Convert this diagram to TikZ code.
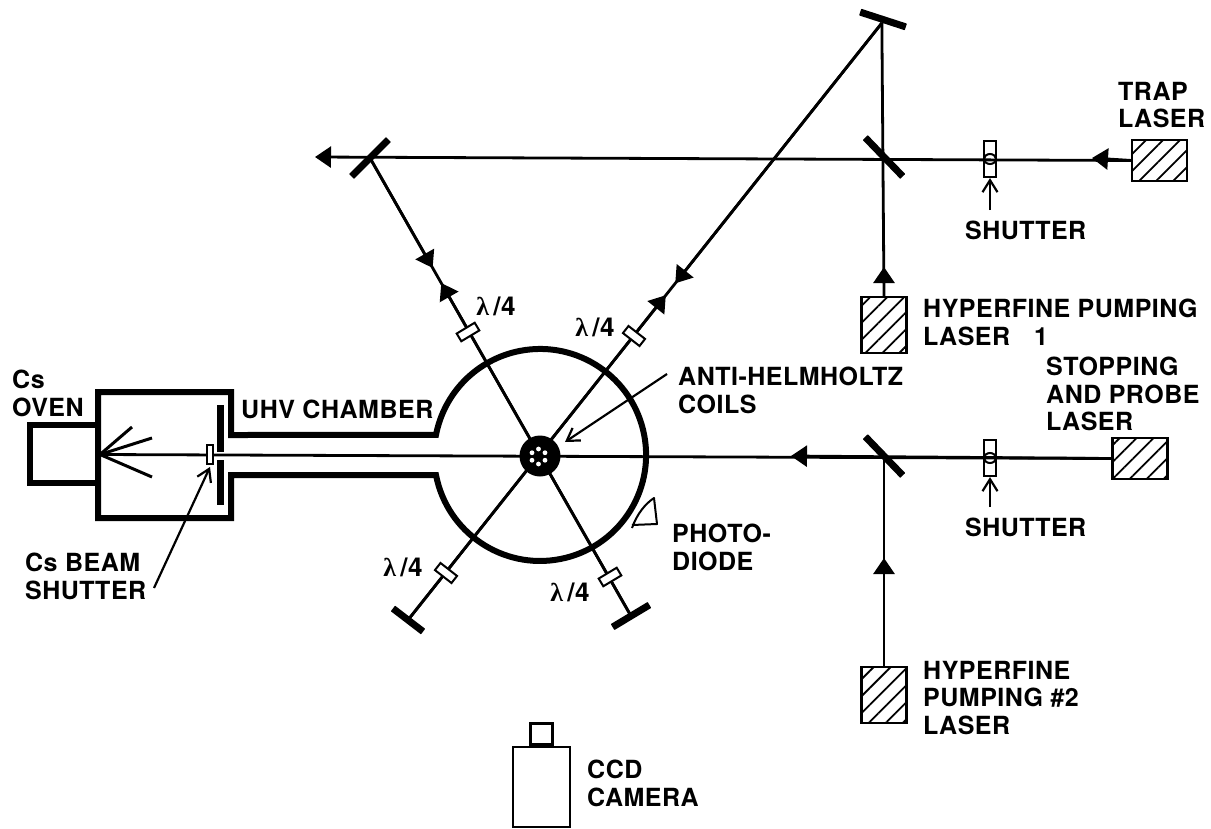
\documentclass[tikz,border=0pt]{standalone}
\usepackage{fontspec}
\setsansfont[LetterSpace=2]{TeX Gyre Heros}
\newfontfamily\lambdafont{Liberation Serif}
\usepackage{tikz}
\usetikzlibrary{arrows.meta,backgrounds,calc,patterns.meta}
\newcommand{\quarterwave}{{\lambdafont\bfseries λ}\,/4}
\tikzset{
  font=\sffamily,
  wall/.style={draw=black, line width=6pt, line join=miter},
  beam/.style={draw=black, line width=2.8pt},
  beamtip/.style={beam, -{Triangle[length=16pt,width=21pt]}},
  pointer/.style={draw=black, line width=2.2pt, -{Straight Barb[length=12pt,width=15pt,line width=2.2pt]}},
  fanline/.style={draw=black, line width=3pt},
  laser/.style={draw=black, line width=2.8pt, inner sep=0pt, outer sep=0pt,
    pattern={Lines[angle=45,distance=12pt,line width=1.8pt]}},
  mirror/.style={fill=black, inner sep=0pt, minimum height=7pt, rounded corners=0.5pt},
  plate/.style={draw=black, line width=2pt, fill=white, inner sep=0pt, minimum width=21pt, minimum height=9pt},
  shutter/.style={draw=black, line width=2.2pt, inner sep=0pt, minimum width=12pt, minimum height=36pt},
  housing/.style={draw=black, line width=2.4pt, inner sep=0pt},
  tag/.style={font=\sffamily\bfseries\fontsize{25}{27.5}\selectfont, anchor=north west, inner sep=0pt, align=left},
  lambdatag/.style={font=\sffamily\bfseries\fontsize{26}{28}\selectfont, inner sep=0pt}
}
\begin{document}
\begin{tikzpicture}[x=1pt,y=-1pt]
  \useasboundingbox (0,0) rectangle (1211,828);

  % lasers
  \node[laser, minimum width=55pt, minimum height=41pt] (traplaser) at (1159.5,160.5) {};
  \node[laser, minimum width=55pt, minimum height=41pt] (stoplaser) at (1140,458.5) {};
  \node[laser, minimum width=45pt, minimum height=56pt] (hfonelaser) at (884,325) {};
  \node[laser, minimum width=45pt, minimum height=56pt] (hftwolaser) at (884,695) {};

  % mirrors
  \node[mirror, minimum width=48pt, rotate=-18] (topmirror) at (883,19.5) {};
  \node[mirror, minimum width=54pt, rotate=-46] (upmirror) at (884,157) {};
  \node[mirror, minimum width=54pt, rotate=-46] (lowmirror) at (884,456) {};
  \node[mirror, minimum width=52pt, rotate=45] (leftmirror) at (370,158) {};
  \node[mirror, minimum width=38pt, rotate=-37.5] (llmirror) at (408,620) {};
  \node[mirror, minimum width=43pt, rotate=31] (lrmirror) at (631,616) {};

  % quarter wave plates
  \node[plate, rotate=31] (plateul) at (468,332) {};
  \node[plate, rotate=-38] (plateur) at (634,336) {};
  \node[plate, rotate=-38] (platell) at (446,573) {};
  \node[plate, rotate=31] (platelr) at (610,577) {};

  % shutters
  \node[shutter] (upshutter) at (990,159) {};
  \node[shutter] (lowshutter) at (990,458) {};
  \draw[line width=2pt] (upshutter.center) ellipse (6pt and 5pt);
  \draw[line width=2pt] (lowshutter.center) ellipse (6pt and 5pt);
  \node[plate, minimum width=6pt, minimum height=19pt] (csshutter) at (210,454.5) {};

  % chamber and oven
  \draw[wall] (231,435) -- (231,392) -- (98,392) -- (98,518) -- (231,518) -- (231,475) -- (436,475)
    arc[start angle=529.1, end angle=190.9, radius=106] -- cycle;
  \draw[wall] (98,424.5) -- (30,424.5) -- (30,483) -- (98,483);
  \node[fill=black, inner sep=0pt, minimum width=7pt, minimum height=47pt] (plateup) at (220.5,428.5) {};
  \node[fill=black, inner sep=0pt, minimum width=7pt, minimum height=45pt] (platedown) at (220.5,482.5) {};
  \coordinate (source) at (100,454.5);
  \foreach \x/\y in {132/427,152/438,152/477}
    \draw[fanline] (source) -- (\x,\y);

  % coils
  \node[circle, fill=black, minimum size=41pt, inner sep=0pt] (coils) at (540,456) {};
  \foreach \a in {30,90,...,330}
    \fill[white] (538.5,456.5) ++(\a:7.5) circle (2.4pt);

  % beams
  \coordinate (lefttip) at (315,157);
  \coordinate (traptip) at (1092,158);
  \coordinate (stoptip) at (791,456);
  \coordinate (hfonetip) at (884,267);
  \coordinate (hftwotip) at (884,558);
  \coordinate (downtipl) at ($(leftmirror.center)!0.24!(lrmirror.center)$);
  \coordinate (uptipl) at ($(leftmirror.center)!0.273!(lrmirror.center)$);
  \coordinate (downtipr) at ($(topmirror.south)!0.436!(llmirror.center)$);
  \coordinate (uptipr) at ($(topmirror.south)!0.456!(llmirror.center)$);
  \begin{scope}[on background layer]
    \draw[beamtip] (traplaser.west) -- (lefttip);
    \draw[beamtip] (traplaser.west) -- (traptip);
    \draw[beam] (hfonelaser.north) -- (topmirror.south);
    \draw[beamtip] (hfonelaser.north) -- (hfonetip);
    \draw[beam] (stoplaser.west) -- (source);
    \draw[beamtip] (stoplaser.west) -- (stoptip);
    \draw[beam] (hftwolaser.north) -- (lowmirror.center);
    \draw[beamtip] (hftwolaser.north) -- (hftwotip);
    \draw[beam] (topmirror.south) -- (llmirror.center);
    \draw[beam] (leftmirror.center) -- (lrmirror.center);
    \draw[beamtip] (leftmirror.center) -- (downtipl);
    \draw[beamtip] (lrmirror.center) -- (uptipl);
    \draw[beamtip] (topmirror.south) -- (downtipr);
    \draw[beamtip] (llmirror.center) -- (uptipr);
  \end{scope}

  % photodiode
  \draw[draw=black, line width=2pt, line join=round] (632,528) .. controls (637,514) and (645,504) .. (654,498)
    -- (657,524) -- (632,525);

  % camera
  \node[housing, minimum width=57pt, minimum height=80pt] (camera) at (541.5,787) {};
  \node[housing, minimum width=22pt, minimum height=21pt, anchor=south] (lens) at (camera.north) {};

  % labels
  \node[tag] (ovenlabel) at (12,370) {Cs\\OVEN};
  \node[tag] (chamberlabel) at (241,400) {UHV CHAMBER};
  \node[tag] (beamshutterlabel) at (25,553) {Cs BEAM\\SHUTTER};
  \node[tag] (coilslabel) at (678,367) {ANTI-HELMHOLTZ\\COILS};
  \node[tag] (diodelabel) at (672,524) {PHOTO-\\DIODE};
  \node[tag] (traplabel) at (1118,82) {TRAP\\LASER};
  \node[tag] (upshutterlabel) at (965,221) {SHUTTER};
  \node[tag] (lowshutterlabel) at (965,518) {SHUTTER};
  \node[tag] (stoplabel) at (1046,357) {STOPPING\\AND PROBE\\LASER};
  \node[tag] (hfonelabel) at (923,299) {HYPERFINE PUMPING\\LASER\hspace{24pt}1};
  \node[tag] (hftwolabel) at (923,661) {HYPERFINE\\PUMPING \#2\\LASER};
  \node[tag] (cameralabel) at (587,760) {CCD\\CAMERA};
  \node[lambdatag] (lambdaul) at (496,306) {\quarterwave};
  \node[lambdatag] (lambdaur) at (595,327) {\quarterwave};
  \node[lambdatag] (lambdall) at (403,567) {\quarterwave};
  \node[lambdatag] (lambdalr) at (570,592) {\quarterwave};

  % pointers
  \coordinate (beamtail) at (154,588);
  \coordinate (beamhead) at (210,467);
  \coordinate (coilstail) at (667,374);
  \coordinate (coilshead) at (565,442);
  \draw[pointer] (beamtail) -- (beamhead);
  \draw[pointer] (coilstail) -- (coilshead);
  \draw[pointer] (990,210) -- (upshutter.south);
  \draw[pointer] (990,507) -- (lowshutter.south);
\end{tikzpicture}
\end{document}
